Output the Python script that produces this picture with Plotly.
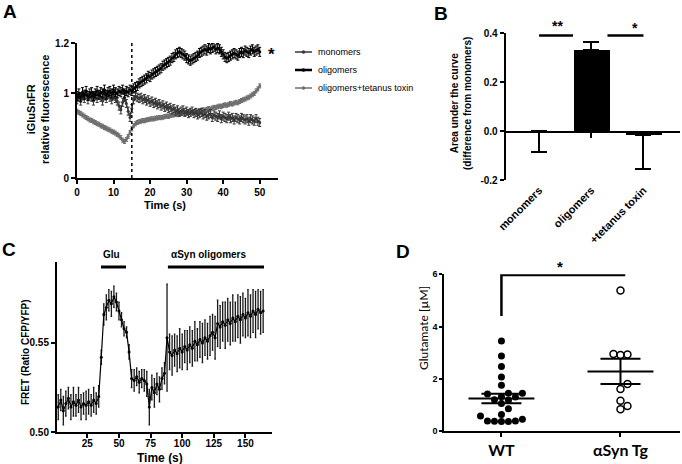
import numpy as np
import plotly.graph_objects as go

W, H = 682, 464
FONT = "Liberation Sans, Arial, sans-serif"


def fx(p):
    return p / W


def fy(p):
    return 1 - p / H


# ---------------- Panel A data ----------------
a_time = np.arange(0, 50.5, 0.5)
a_oligomers = [
    0.990, 1.000, 0.985, 1.005, 0.995, 1.010, 0.990, 1.000, 1.005, 0.990,
    1.000, 1.010, 0.995, 1.005, 1.000, 1.015, 0.995, 1.005, 1.010, 1.000,
    1.015, 1.005, 1.000, 1.010, 1.005, 1.015, 1.000, 1.010, 1.005, 1.015,
    1.010, 1.020, 1.025, 1.030, 1.040, 1.045, 1.050, 1.055, 1.060, 1.070,
    1.065, 1.075, 1.080, 1.085, 1.090, 1.095, 1.100, 1.110, 1.115, 1.120,
    1.125, 1.130, 1.140, 1.145, 1.155, 1.160, 1.165, 1.160, 1.155, 1.150,
    1.140, 1.135, 1.130, 1.135, 1.140, 1.145, 1.150, 1.160, 1.165, 1.170,
    1.175, 1.170, 1.180, 1.175, 1.180, 1.185, 1.175, 1.180, 1.175, 1.165,
    1.155, 1.145, 1.140, 1.145, 1.150, 1.155, 1.160, 1.155, 1.150, 1.160,
    1.165, 1.160, 1.170, 1.165, 1.160, 1.170, 1.175, 1.165, 1.170, 1.175,
    1.165]
a_monomers = [
    0.975, 0.985, 0.970, 0.990, 0.980, 0.995, 0.975, 0.990, 0.985, 0.970,
    0.990, 0.980, 0.995, 0.985, 0.970, 0.990, 0.980, 0.995, 0.985, 0.975,
    0.990, 0.980, 0.970, 0.950, 0.935, 0.965, 0.985, 0.960, 0.930, 0.905,
    0.940, 0.975, 0.990, 0.985, 0.980, 0.985, 0.975, 0.980, 0.970, 0.975,
    0.965, 0.970, 0.960, 0.965, 0.955, 0.960, 0.950, 0.955, 0.945, 0.950,
    0.940, 0.945, 0.935, 0.940, 0.930, 0.935, 0.925, 0.930, 0.935, 0.925,
    0.930, 0.920, 0.925, 0.930, 0.920, 0.925, 0.915, 0.920, 0.925, 0.915,
    0.920, 0.910, 0.915, 0.920, 0.905, 0.915, 0.910, 0.905, 0.915, 0.900,
    0.910, 0.905, 0.900, 0.910, 0.900, 0.905, 0.895, 0.905, 0.900, 0.895,
    0.905, 0.900, 0.895, 0.900, 0.890, 0.900, 0.895, 0.890, 0.900, 0.890,
    0.885]
a_toxin = [
    0.930, 0.925, 0.920, 0.915, 0.910, 0.905, 0.900, 0.895, 0.893, 0.888,
    0.885, 0.880, 0.878, 0.872, 0.870, 0.865, 0.862, 0.858, 0.855, 0.850,
    0.847, 0.843, 0.838, 0.832, 0.825, 0.815, 0.810, 0.818, 0.830, 0.845,
    0.860, 0.872, 0.880, 0.885, 0.888, 0.890, 0.893, 0.892, 0.895, 0.897,
    0.898, 0.900, 0.899, 0.902, 0.903, 0.905, 0.904, 0.906, 0.908, 0.910,
    0.909, 0.912, 0.914, 0.915, 0.917, 0.916, 0.919, 0.920, 0.922, 0.921,
    0.924, 0.925, 0.926, 0.925, 0.928, 0.930, 0.929, 0.932, 0.933, 0.935,
    0.934, 0.937, 0.940, 0.938, 0.942, 0.945, 0.944, 0.947, 0.950, 0.948,
    0.952, 0.955, 0.953, 0.957, 0.960, 0.958, 0.962, 0.965, 0.963, 0.968,
    0.972, 0.975, 0.978, 0.982, 0.985, 0.990, 0.995, 1.000, 1.010, 1.018,
    1.030]
a_err_oligomers = 0.018
a_err_monomers = 0.016
a_err_toxin = 0.008
a_series_names = ["monomers", "oligomers", "oligomers+tetanus toxin"]
a_stim_time = 15
a_xticks = [0, 10, 20, 30, 40, 50]
a_ytick_vals = [0.665, 1.0, 1.2]
a_ytick_text = ["0", "1", "1.2"]

# ---------------- Panel B data ----------------
b_categories = ["monomers", "oligomers", "+tetanus toxin"]
b_values = [0.0, 0.33, -0.017]
b_err_plus = [0.0, 0.035, 0.0]
b_err_minus = [0.087, 0.0, 0.138]
b_yticks = [-0.2, 0.0, 0.2, 0.4]
b_ytick_text = ["-0.2", "0.0", "0.2", "0.4"]
b_sig_level = 0.39

# ---------------- Panel C data ----------------
c_time = np.arange(2, 166, 2)
c_fret = [
    0.514, 0.518, 0.512, 0.516, 0.519, 0.514, 0.517, 0.515, 0.518, 0.514,
    0.516, 0.515, 0.517, 0.515, 0.518, 0.516, 0.520,
    0.542, 0.566, 0.570, 0.574, 0.572, 0.576, 0.573, 0.568, 0.563, 0.558,
    0.556, 0.545,
    0.530, 0.529, 0.531, 0.528, 0.530, 0.529, 0.527, 0.514, 0.525, 0.522,
    0.527, 0.524, 0.530, 0.533,
    0.553,
    0.545, 0.543, 0.546, 0.544, 0.547, 0.545, 0.548, 0.546, 0.549, 0.547,
    0.551, 0.549, 0.552, 0.550, 0.553, 0.551, 0.554, 0.556,
    0.553, 0.561, 0.559, 0.562, 0.560, 0.563, 0.561, 0.564, 0.562, 0.565,
    0.563, 0.566, 0.564, 0.567, 0.565, 0.568, 0.566, 0.569, 0.567, 0.568]
c_err = [
    0.007, 0.006, 0.008, 0.007, 0.006, 0.007, 0.008, 0.006, 0.007, 0.007,
    0.006, 0.008, 0.007, 0.006, 0.007, 0.006, 0.006,
    0.004, 0.006, 0.007, 0.006, 0.007, 0.006, 0.005, 0.005, 0.004, 0.004,
    0.003, 0.004,
    0.005, 0.006, 0.005, 0.006, 0.005, 0.006, 0.007, 0.010, 0.007, 0.008,
    0.006, 0.007, 0.006, 0.006,
    0.030,
    0.010, 0.011, 0.009, 0.010, 0.011, 0.010, 0.009, 0.011, 0.010, 0.010,
    0.011, 0.009, 0.010, 0.011, 0.010, 0.010, 0.011, 0.010,
    0.012, 0.013, 0.012, 0.011, 0.013, 0.012, 0.012, 0.013, 0.011, 0.012,
    0.013, 0.012, 0.011, 0.013, 0.012, 0.012, 0.013, 0.011, 0.012, 0.012]
c_glu_period = [35.8, 55.6]
c_olig_period = [88.7, 164.7]
c_xticks = [25, 50, 75, 100, 125, 150]
c_yticks = [0.50, 0.55]
c_ytick_text = ["0.50", "0.55"]

# ---------------- Panel D data ----------------
d_groups = ["WT", "αSyn Tg"]
d_wt = [3.45, 2.87, 2.47, 2.07, 1.75, 1.45, 1.45, 1.42, 1.32, 1.30, 1.20,
        1.18, 1.05, 0.85, 0.63, 0.57, 0.38, 0.36, 0.36, 0.37, 0.38, 0.45]
d_tg = [5.38, 2.91, 2.93, 2.95, 1.80, 1.61, 1.16, 0.96, 0.83]
d_yticks = [0, 2, 4, 6]
d_bracket_low = 4.4
d_bracket_high = 5.97

# ---------------- helpers ----------------
def axis(**kw):
    base = dict(showline=True, linecolor="black", linewidth=2, ticks="outside",
                tickcolor="black", tickwidth=2, ticklen=4, showgrid=False,
                zeroline=False, mirror=False, automargin=False,
                tickfont=dict(family=FONT, size=10, color="black", weight="bold"))
    base.update(kw)
    return base


def swarm(vals, px_per_x, px_per_y, diam=7.0):
    order = sorted(range(len(vals)), key=lambda i: vals[i])
    placed, offs = [], [0.0] * len(vals)
    cands = [0]
    for k in range(1, 25):
        cands += [k, -k]
    for i in order:
        y = vals[i] * px_per_y
        for k in cands:
            x = k * diam
            if all((x - a) ** 2 + (y - b) ** 2 >= (diam * 0.97) ** 2 for a, b in placed):
                break
        placed.append((x, y))
        offs[i] = x / px_per_x
    return offs


fig = go.Figure()

# ---------------- Panel A traces ----------------
a_colors = {"monomers": "#363636", "oligomers": "#000000", "oligomers+tetanus toxin": "#6e6e6e"}
a_data = {"monomers": (a_monomers, a_err_monomers),
          "oligomers": (a_oligomers, a_err_oligomers),
          "oligomers+tetanus toxin": (a_toxin, a_err_toxin)}
for name in ["oligomers+tetanus toxin", "monomers", "oligomers"]:
    vals, err = a_data[name]
    col = a_colors[name]
    fig.add_trace(go.Scatter(
        x=a_time, y=vals, mode="lines+markers", name=name, showlegend=False,
        line=dict(color=col, width=1.2), marker=dict(color=col, size=3),
        error_y=dict(type="constant", value=err, color=col, thickness=1, width=1.5),
        xaxis="x", yaxis="y"))

# ---------------- Panel B traces ----------------
b_pos = list(range(len(b_categories)))
fig.add_trace(go.Bar(
    x=b_pos, y=b_values, width=0.69, marker=dict(color="black", line=dict(width=0)),
    error_y=dict(type="data", symmetric=False, array=b_err_plus, arrayminus=b_err_minus,
                 color="black", thickness=2, width=8),
    showlegend=False, xaxis="x2", yaxis="y2"))

# ---------------- Panel C traces ----------------
fig.add_trace(go.Scatter(
    x=c_time, y=c_fret, mode="lines+markers", showlegend=False,
    line=dict(color="black", width=1.2), marker=dict(color="black", size=3),
    error_y=dict(type="data", array=c_err, color="#1a1a1a", thickness=1.3, width=0.8),
    xaxis="x3", yaxis="y3"))

# ---------------- Panel D traces ----------------
D_PX_X, D_PX_Y = 119.3, 26.1
wt_off = swarm(d_wt, D_PX_X, D_PX_Y)
tg_off = swarm(d_tg, D_PX_X, D_PX_Y)
fig.add_trace(go.Scatter(
    x=[0 + o for o in wt_off], y=d_wt, mode="markers", showlegend=False,
    marker=dict(color="black", size=7, line=dict(width=0)), xaxis="x4", yaxis="y4"))
fig.add_trace(go.Scatter(
    x=[1 + o for o in tg_off], y=d_tg, mode="markers", showlegend=False,
    marker=dict(symbol="circle-open", color="black", size=7, line=dict(width=1.5)),
    xaxis="x4", yaxis="y4"))

shapes = []
for gi, vals in enumerate([d_wt, d_tg]):
    arr = np.array(vals)
    m = arr.mean()
    s = arr.std(ddof=1) / np.sqrt(len(arr))
    ln = dict(color="black", width=2)
    shapes.append(dict(type="line", xref="x4", yref="y4", x0=gi - 0.277, x1=gi + 0.277, y0=m, y1=m, line=ln))
    shapes.append(dict(type="line", xref="x4", yref="y4", x0=gi - 0.168, x1=gi + 0.168, y0=m + s, y1=m + s, line=ln))
    shapes.append(dict(type="line", xref="x4", yref="y4", x0=gi - 0.168, x1=gi + 0.168, y0=m - s, y1=m - s, line=ln))
    shapes.append(dict(type="line", xref="x4", yref="y4", x0=gi, x1=gi, y0=m - s, y1=m + s, line=ln))
# significance bracket D
shapes.append(dict(type="path", xref="x4", yref="y4",
                   path=f"M 0 {d_bracket_low} L 0 {d_bracket_high} L 1.04 {d_bracket_high}",
                   line=dict(color="black", width=2.5)))

# Panel A stimulus line
shapes.append(dict(type="line", xref="x", yref="y", x0=a_stim_time, x1=a_stim_time,
                   y0=a_ytick_vals[0], y1=1.2, line=dict(color="black", width=1.5, dash="dot")))

# Panel B significance lines
shapes.append(dict(type="line", xref="x2", yref="y2", x0=0, x1=0.65, y0=b_sig_level, y1=b_sig_level,
                   line=dict(color="black", width=2.5)))
shapes.append(dict(type="line", xref="x2", yref="y2", x0=1.31, x1=2, y0=b_sig_level, y1=b_sig_level,
                   line=dict(color="black", width=2.5)))

# Panel C treatment bars
for per in [c_glu_period, c_olig_period]:
    shapes.append(dict(type="line", xref="x3", yref="paper", x0=per[0], x1=per[1],
                       y0=fy(267), y1=fy(267), line=dict(color="black", width=3)))

# Panel A manual legend
leg_y = [52, 70, 88]
leg_w = {"monomers": 1.5, "oligomers": 2.5, "oligomers+tetanus toxin": 1.5}
annotations = []
for name, yy in zip(a_series_names, leg_y):
    shapes.append(dict(type="line", xref="paper", yref="paper", x0=fx(295), x1=fx(312),
                       y0=fy(yy), y1=fy(yy), line=dict(color=a_colors[name], width=leg_w[name])))
    shapes.append(dict(type="circle", xref="paper", yref="paper", x0=fx(302), x1=fx(305),
                       y0=fy(yy + 1.5), y1=fy(yy - 1.5), fillcolor=a_colors[name],
                       line=dict(color=a_colors[name], width=0.5)))
    annotations.append(dict(text=name, x=fx(316), y=fy(yy), xref="paper", yref="paper",
                            xanchor="left", yanchor="middle", showarrow=False,
                            font=dict(family=FONT, size=9, color="black")))


def txt(t, x, y, size=10, bold=True, angle=0, family=FONT, xanchor="center"):
    annotations.append(dict(text=t, x=fx(x), y=fy(y), xref="paper", yref="paper",
                            xanchor=xanchor, yanchor="middle", showarrow=False, textangle=angle,
                            font=dict(family=family, size=size, color="black",
                                      weight="bold" if bold else "normal")))


# panel letters
txt("A", 10, 12, size=19)
txt("B", 441, 13, size=19)
txt("C", 9, 249, size=19)
txt("D", 403, 251, size=19)
# Panel A texts
txt("iGluSnFR<br>relative fluorescence", 38, 110, size=11, angle=-90)
txt("Time (s)", 165, 205, size=11)
txt("*", 271, 55, size=17)
# Panel B texts
txt("Area under the curve<br>(difference from monomers)", 461, 103, size=10, angle=-90)
txt("**", 557, 26, size=14)
txt("*", 635, 28, size=14)
# Panel C texts
txt("FRET (Ratio CFP/YFP)", 25, 352, size=10, angle=-90)
txt("Time (s)", 160, 458, size=12)
txt("Glu", 111, 255, size=10)
txt("αSyn oligomers", 208, 255, size=10)
# Panel D texts
txt("Glutamate [µM]", 423, 328, size=12, bold=False, angle=-90, family="Lato, sans-serif")
txt("*", 560, 266, size=15)

fig.update_layout(
    width=W, height=H, margin=dict(l=0, r=0, t=0, b=0, autoexpand=False),
    paper_bgcolor="white", plot_bgcolor="white", showlegend=False,
    bargap=0,
    xaxis=axis(domain=[fx(77), fx(278)], range=[0, 55], tickvals=a_xticks, anchor="y"),
    yaxis=axis(domain=[fy(178), fy(43)], range=[a_ytick_vals[0], 1.2],
               tickvals=a_ytick_vals, ticktext=a_ytick_text, anchor="x"),
    xaxis2=axis(domain=[fx(505.7), fx(680)], range=[-0.64, 2.7], tickvals=b_pos,
                ticktext=b_categories, tickangle=-45, anchor="free", position=fy(131.7),
                ticklabelstandoff=42, ticklen=5,
                tickfont=dict(family=FONT, size=11, color="black", weight="bold")),
    yaxis2=axis(domain=[fy(180), fy(33)], range=[-0.2, 0.4], tickvals=b_yticks,
                ticktext=b_ytick_text, anchor="x2"),
    xaxis3=axis(domain=[fx(57), fx(272)], range=[1, 171], tickvals=c_xticks, anchor="y3",
                ticklabelstandoff=-3),
    yaxis3=axis(domain=[fy(432), fy(262)], range=[0.50, 0.5955], tickvals=c_yticks,
                ticktext=c_ytick_text, anchor="x3"),
    xaxis4=axis(domain=[fx(444.3), fx(680)], range=[-0.48, 1.5], tickvals=[0, 1],
                ticktext=d_groups, anchor="y4", ticklen=4,
                tickfont=dict(family="Lato, sans-serif", size=16, color="black", weight="bold")),
    yaxis4=axis(domain=[fy(431), fy(274.3)], range=[0, 6], tickvals=d_yticks, anchor="x4",
                ticklen=3, tickfont=dict(family=FONT, size=9, color="black", weight="bold")),
    shapes=shapes, annotations=annotations,
)

fig.write_html(
    "out.html",
    config={"displayModeBar": False},
    post_script="document.body.style.margin='0';document.body.style.overflow='hidden';")
